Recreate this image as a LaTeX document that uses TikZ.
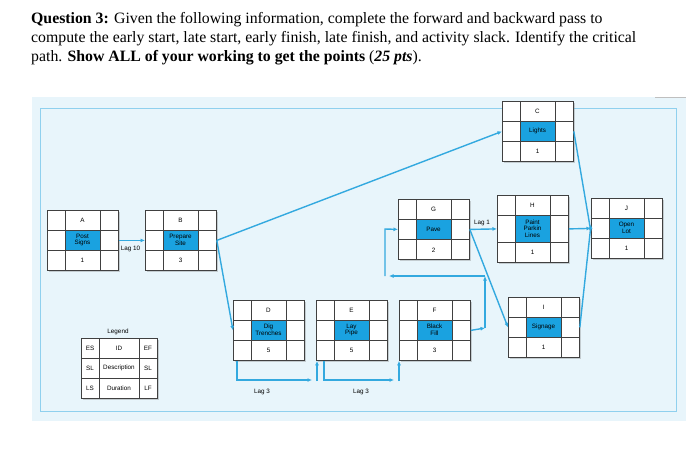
\documentclass[tikz,border=0pt]{standalone}
\usepackage{fontspec}
\setmainfont{Liberation Serif}
\newfontfamily\cellfont{Liberation Sans}
\usetikzlibrary{arrows.meta,calc,shadows}
\definecolor{panel}{HTML}{E8F5FB}
\definecolor{frameb}{HTML}{8FD0EE}
\definecolor{cellc}{HTML}{1AA2E0}
\definecolor{linkc}{HTML}{33A9DF}
\tikzset{
  box/.style={draw=black!75, line width=0.8pt, fill=white, minimum width=71pt, inner sep=0pt, anchor=north west,
    drop shadow={shadow xshift=1.5pt, shadow yshift=-1.5pt, opacity=0.35}},
  grid/.style={draw=black!75, line width=0.8pt},
  txt/.style={font=\cellfont\fontsize{6.3}{6.6}\selectfont, align=center, inner sep=0pt},
  link/.style={draw=linkc, line width=1.4pt},
  arr/.style={link, -{Latex[length=4.5pt,width=4pt]}},
  lag/.style={font=\cellfont\fontsize{6.3}{7}\selectfont, inner sep=0pt}
}
\newcommand\act[7]{%
  \node[box, minimum height=#7pt+40pt] (#1) at (#2,#3) {};
  \fill[cellc] ($(#1.north west)+(18pt,-20pt)$) rectangle ++(35pt,-#7pt);
  \draw[grid] ($(#1.north west)+(18pt,0pt)$) -- ($(#1.south west)+(18pt,0pt)$);
  \draw[grid] ($(#1.north west)+(53pt,0pt)$) -- ($(#1.south west)+(53pt,0pt)$);
  \draw[grid] ($(#1.north west)+(0pt,-20pt)$) -- ($(#1.north east)+(0pt,-20pt)$);
  \draw[grid] ($(#1.south west)+(0pt,20pt)$) -- ($(#1.south east)+(0pt,20pt)$);
  \node[txt] (#1id) at ($(#1.north west)+(35.5pt,-10pt)$) {#4};
  \node[txt] (#1ds) at ($(#1.north west)+(35.5pt,-20pt-#7pt/2)$) {#5};
  \node[txt] (#1du) at ($(#1.south west)+(35.5pt,10pt)$) {#6};
}
\begin{document}
\begin{tikzpicture}[x=1pt,y=-1pt]
\useasboundingbox (0,0) rectangle (700,455);
\fill[white] (0,0) rectangle (700,455);
\node[anchor=base west, inner sep=0pt, font=\fontsize{15.8}{18}\selectfont] (t1) at (31,23) {\textbf{Question 3:} Given the following information, complete the forward and backward pass to};
\node[anchor=base west, inner sep=0pt, font=\fontsize{15.8}{18}\selectfont] (t2) at (31,42) {compute the early start, late start, early finish, late finish, and activity slack. Identify the critical};
\node[anchor=base west, inner sep=0pt, font=\fontsize{15.8}{18}\selectfont] (t3) at (31,61) {path. \textbf{Show ALL of your working to get the points} (\textbf{\textit{25 pts}}).};
\fill[panel] (32,97) rectangle (686,421);
\draw[black!25, line width=1pt] (655,97) -- (686,97);
\draw[frameb, line width=1pt] (40,108) rectangle (676,411);

\act{A}{47}{210}{A}{Post\\Signs}{1}{20}
\act{B}{145}{210}{B}{Prepare\\Site}{3}{20}
\act{C}{502}{101}{C}{Lights}{1}{20}
\act{D}{233}{300}{D}{Dig\\Trenches}{5}{20}
\act{E}{316}{300}{E}{Lay\\Pipe}{5}{20}
\act{F}{399}{300}{F}{Black\\Fill}{3}{20}
\act{G}{398}{199}{G}{Pave}{2}{20}
\act{H}{497}{195}{H}{Paint\\Parkin\\Lines}{1}{27}
\act{J}{591}{198}{J}{Open\\Lot}{1}{20}
\act{I}{508}{297}{I}{Signage}{1}{20}

% legend
\node[box, minimum width=76pt, minimum height=60pt] (L) at (81,338) {};
\draw[grid] (99,338) -- (99,398) (139,338) -- (139,398) (81,358) -- (157,358) (81,378) -- (157,378);
\node[lag] (Lt) at (118,332) {Legend};
\node[txt] (L1) at (90,348) {ES};
\node[txt] (L2) at (119,348) {ID};
\node[txt] (L3) at (148,348) {EF};
\node[txt] (L4) at (90,368) {SL};
\node[txt] (L5) at (119,368) {Description};
\node[txt] (L6) at (148,368) {SL};
\node[txt] (L7) at (90,388) {LS};
\node[txt] (L8) at (119,388) {Duration};
\node[txt] (L9) at (148,388) {LF};

% links
\draw[arr] (A.east) -- (B.west) node[lag, pos=0.45, below=5pt] (lag10) {Lag 10};
\draw[arr] (B.east) -- (C.west);
\draw[arr] (B.east) -- (D.west);
\coordinate (d1) at (237,380);
\coordinate (d2) at (312,380);
\coordinate (d3) at (317,381);
\draw[arr] ($(D.south west)+(4pt,0pt)$) -- (d1) -- (d2);
\draw[arr] (d3) -- ($(E.south west)+(1pt,0pt)$);
\node[lag] (lag3a) at (262,392) {Lag 3};
\coordinate (e1) at (324,380);
\coordinate (e2) at (394,380);
\coordinate (e3) at (399,381);
\draw[arr] ($(E.south west)+(8pt,0pt)$) -- (e1) -- (e2);
\draw[arr] (e3) -- ($(F.south west)+(0pt,0pt)$);
\node[lag] (lag3b) at (361,392) {Lag 3};
\coordinate (f1) at (485,328);
\coordinate (f2) at (485,276);
\coordinate (f3) at (389,276);
\coordinate (f4) at (385,276);
\coordinate (f5) at (385,229);
\draw[arr] (F.east) -- (f1);
\draw[arr] (f1) -- (f2);
\draw[arr] (f2) -- (f3);
\draw[arr] (f4) -- (f5) -- (G.west);
\draw[arr] (G.east) -- (H.west) node[lag, pos=0.45, above=3pt] (lag1) {Lag 1};
\draw[arr] (G.east) -- (I.west);
\draw[arr] (H.east) -- (J.west);
\draw[arr] (C.east) -- ($(J.west)+(0pt,-4pt)$);
\draw[arr] (I.east) -- ($(J.west)+(0pt,4pt)$);
\end{tikzpicture}
\end{document}
